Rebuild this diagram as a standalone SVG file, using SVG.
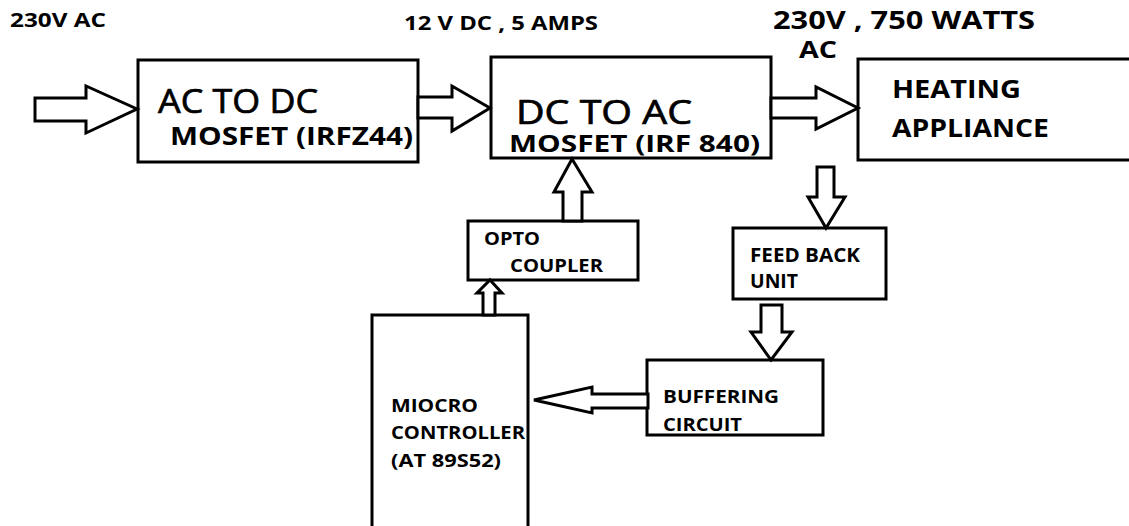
<svg xmlns="http://www.w3.org/2000/svg" width="1129" height="526" viewBox="0 0 1129 526">
<style>
.box{fill:#fff;stroke:#000;stroke-width:3}
.arr{fill:#fff;stroke:#000;stroke-width:3;stroke-linejoin:miter}
text{font-family:"Open Sans","Liberation Sans",Arial,sans-serif;fill:#000}
.b{font-weight:bold}
.n{font-weight:normal;stroke:#000;stroke-width:0.7}
</style>
<rect width="1129" height="526" fill="#fff"/>
<g id="labels">
<text class="b" x="10" y="27" font-size="19" textLength="96" lengthAdjust="spacingAndGlyphs">230V AC</text>
<text class="b" x="404" y="30" font-size="20" textLength="194" lengthAdjust="spacingAndGlyphs">12 V DC , 5 AMPS</text>
<text class="b" x="773" y="29" font-size="25" textLength="262" lengthAdjust="spacingAndGlyphs">230V , 750 WATTS</text>
<text class="b" x="799" y="58" font-size="23" textLength="38" lengthAdjust="spacingAndGlyphs">AC</text>
</g>
<g id="node-acdc">
<rect class="box" x="138" y="60" width="280" height="102"/>
<text class="n" x="158" y="113" font-size="32" textLength="160" lengthAdjust="spacingAndGlyphs">AC TO DC</text>
<text class="b" x="170" y="145" font-size="25" textLength="243" lengthAdjust="spacingAndGlyphs">MOSFET (IRFZ44)</text>
</g>
<g id="node-dcac">
<rect class="box" x="491" y="57" width="280" height="101"/>
<text class="n" x="516" y="124" font-size="33" textLength="176" lengthAdjust="spacingAndGlyphs">DC TO AC</text>
<text class="b" x="509" y="152" font-size="24" textLength="251" lengthAdjust="spacingAndGlyphs">MOSFET (IRF 840)</text>
</g>
<g id="node-heating">
<rect class="box" x="858" y="59" width="290" height="101"/>
<text class="b" x="892" y="98" font-size="25" textLength="129" lengthAdjust="spacingAndGlyphs">HEATING</text>
<text class="b" x="892" y="137" font-size="25" textLength="157" lengthAdjust="spacingAndGlyphs">APPLIANCE</text>
</g>
<g id="node-opto">
<rect class="box" x="468" y="221" width="170" height="59"/>
<text class="b" x="484" y="245" font-size="18" textLength="56" lengthAdjust="spacingAndGlyphs">OPTO</text>
<text class="b" x="510" y="272" font-size="18" textLength="93" lengthAdjust="spacingAndGlyphs">COUPLER</text>
</g>
<g id="node-feedback">
<rect class="box" x="733" y="228" width="153" height="71"/>
<text class="b" x="750" y="262" font-size="19" textLength="110" lengthAdjust="spacingAndGlyphs">FEED BACK</text>
<text class="b" x="750" y="288" font-size="19" textLength="48" lengthAdjust="spacingAndGlyphs">UNIT</text>
</g>
<g id="node-buffering">
<rect class="box" x="647" y="360" width="176" height="75"/>
<text class="b" x="663" y="403" font-size="18" textLength="116" lengthAdjust="spacingAndGlyphs">BUFFERING</text>
<text class="b" x="663" y="431" font-size="18" textLength="79" lengthAdjust="spacingAndGlyphs">CIRCUIT</text>
</g>
<g id="node-micro">
<rect class="box" x="372" y="315" width="156" height="230"/>
<text class="b" x="391" y="412" font-size="18" textLength="87" lengthAdjust="spacingAndGlyphs">MIOCRO</text>
<text class="b" x="391" y="439" font-size="18" textLength="134" lengthAdjust="spacingAndGlyphs">CONTROLLER</text>
<text class="b" x="391" y="467" font-size="18" textLength="110" lengthAdjust="spacingAndGlyphs">(AT 89S52)</text>
</g>
<g id="connectors">
<polygon class="arr" points="35,98 86,98 86,86 137,109 86,133 86,121 35,121"/>
<polygon class="arr" points="418,97 452,97 452,86 490,108 452,131 452,118 418,118"/>
<polygon class="arr" points="771,98 816,98 816,87 858,108 816,129 816,118 771,118"/>
<polygon class="arr" points="817,167 834,167 834,197 845,197 826,228 808,197 817,197"/>
<polygon class="arr" points="761,305 782,305 782,332 792,332 771,360 751,332 761,332"/>
<polygon class="arr" points="563,221 563,192 554,192 572,159 592,192 582,192 582,221"/>
<polygon class="arr" points="483,315 483,293 477,293 490,280 502,293 495,293 495,315"/>
<polygon class="arr" points="648,394 592,394 592,387 534,400 592,413 592,408 648,408"/>
</g>
</svg>
